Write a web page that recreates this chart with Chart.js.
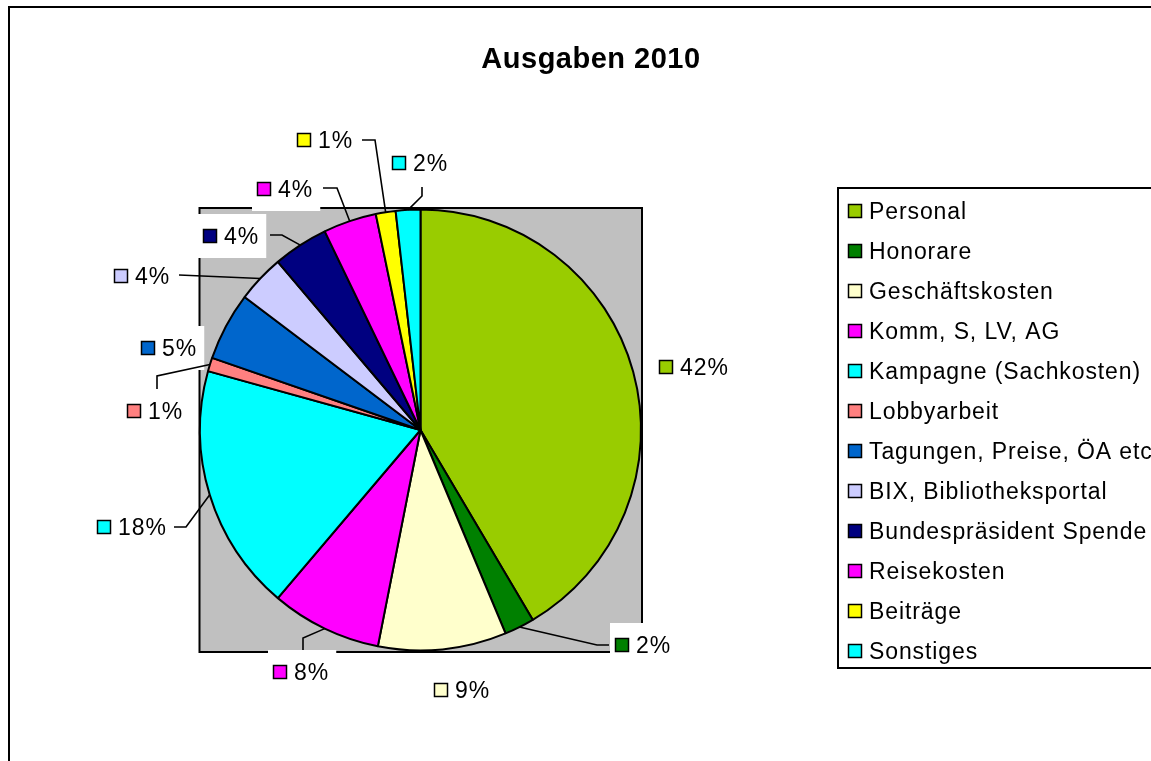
<!DOCTYPE html>
<html><head><meta charset="utf-8">
<script src="https://cdn.jsdelivr.net/npm/chart.js@4.4.1/dist/chart.umd.min.js"></script>
<style>html,body{margin:0;padding:0;background:#fff;overflow:hidden}canvas{display:block}</style>
</head><body>
<canvas id="c" width="1151" height="761"></canvas>
<script>
const chartTitle = 'Ausgaben 2010';
const categories = ['Personal','Honorare','Geschäftskosten','Komm, S, LV, AG','Kampagne (Sachkosten)','Lobbyarbeit','Tagungen, Preise, ÖA etc','BIX, Bibliotheksportal','Bundespräsident Spende','Reisekosten','Beiträge','Sonstiges'];
const shares = [41.5, 2.2, 9.4, 8.1, 18.1, 1.0, 5.0, 3.5, 4.05, 3.9, 1.45, 1.8];
const colors = ['#99CC00','#008000','#FFFFCC','#FF00FF','#00FFFF','#FF8080','#0066CC','#CCCCFF','#000080','#FF00FF','#FFFF00','#00FFFF'];

// label placement (square left x, centre y) and leader-line elbow points
const labelLayout = [
  {x:659, y:367, lead:[]},
  {x:615, y:645, lead:[[609,645],[597,645]]},
  {x:434, y:690, lead:[]},
  {x:273, y:672, lead:[[303,650],[303,638]]},
  {x:97,  y:527, lead:[[174,527],[186,527]]},
  {x:127, y:411, lead:[[157,389],[157,376]]},
  {x:141, y:348, lead:[]},
  {x:114, y:276, lead:[[179,275]]},
  {x:203, y:236, lead:[[270,235],[282,235]]},
  {x:257, y:189, lead:[[323,188],[337,188]]},
  {x:297, y:140, lead:[[362,140],[375,140]]},
  {x:392, y:163, lead:[[422,187],[422,196]]}
];

const FONT = '"Liberation Sans", Arial, sans-serif';
const total = shares.reduce((a,b)=>a+b,0);
const pctText = v => Math.round(v*100/total + 1e-9) + '%';

function setSpacing(ctx, s){ if ('letterSpacing' in ctx) ctx.letterSpacing = s; }

const decor = {
  id:'decor',
  beforeDraw(chart){
    const ctx = chart.ctx;
    ctx.save();
    ctx.fillStyle = '#fff';
    ctx.fillRect(0,0,chart.width,chart.height);
    ctx.strokeStyle = '#000';
    ctx.lineWidth = 2;
    ctx.strokeRect(9, 7, 1300, 900);
    ctx.fillStyle = '#000';
    ctx.font = 'bold 29px ' + FONT;
    setSpacing(ctx,'0.5px');
    ctx.textAlign = 'center';
    ctx.textBaseline = 'alphabetic';
    ctx.fillText(chartTitle, 591, 68);
    ctx.restore();
  },
  beforeDatasetsDraw(chart){
    const ctx = chart.ctx, ca = chart.chartArea;
    ctx.save();
    ctx.fillStyle = '#C0C0C0';
    ctx.fillRect(ca.left, ca.top, ca.right-ca.left, ca.bottom-ca.top);
    ctx.strokeStyle = '#000';
    ctx.lineWidth = 2;
    ctx.strokeRect(ca.left+0.5, ca.top, ca.right-ca.left-0.5, ca.bottom-ca.top);
    // white label backgrounds
    ctx.font = '23px ' + FONT;
    setSpacing(ctx,'1px');
    ctx.fillStyle = '#fff';
    labelLayout.forEach((L,i)=>{
      const w = ctx.measureText(pctText(shares[i])).width;
      ctx.fillRect(L.x-5, L.y-22, 21 + w + 12, 44);
    });
    ctx.restore();
  },
  afterDatasetsDraw(chart){
    const ctx = chart.ctx;
    const meta = chart.getDatasetMeta(0);
    ctx.save();
    // leader lines
    ctx.strokeStyle = '#000';
    ctx.lineWidth = 1.6;
    meta.data.forEach((arc,i)=>{
      const L = labelLayout[i];
      if (!L.lead.length) return;
      const p = arc.getProps(['x','y','startAngle','endAngle','outerRadius'], true);
      const mid = (p.startAngle + p.endAngle)/2;
      const ex = p.x + Math.cos(mid)*p.outerRadius;
      const ey = p.y + Math.sin(mid)*p.outerRadius;
      ctx.beginPath();
      ctx.moveTo(L.lead[0][0], L.lead[0][1]);
      for (let k=1;k<L.lead.length;k++) ctx.lineTo(L.lead[k][0], L.lead[k][1]);
      ctx.lineTo(ex, ey);
      ctx.stroke();
    });
    // data labels
    ctx.font = '23px ' + FONT;
    setSpacing(ctx,'1px');
    ctx.textBaseline = 'alphabetic';
    ctx.textAlign = 'left';
    labelLayout.forEach((L,i)=>{
      ctx.fillStyle = colors[i];
      ctx.fillRect(L.x+0.5, L.y-6.5, 13, 13);
      ctx.lineWidth = 1.5;
      ctx.strokeStyle = '#000';
      ctx.strokeRect(L.x+0.5, L.y-6.5, 13, 13);
      ctx.fillStyle = '#000';
      ctx.fillText(pctText(shares[i]), L.x+21, L.y+8);
    });
    // legend
    ctx.lineWidth = 2;
    ctx.strokeRect(838, 188, 400, 480);
    setSpacing(ctx,'0.9px');
    chart.data.labels.forEach((lab,i)=>{
      const cy = 211 + 40*i;
      ctx.fillStyle = colors[i];
      ctx.fillRect(848.5, cy-6.5, 13, 13);
      ctx.lineWidth = 1.5;
      ctx.strokeRect(848.5, cy-6.5, 13, 13);
      ctx.fillStyle = '#000';
      ctx.fillText(lab, 869, cy+8);
    });
    ctx.restore();
  }
};

new Chart(document.getElementById('c'), {
  type:'pie',
  data:{ labels: categories, datasets:[{ data: shares, backgroundColor: colors, borderColor:'#000', borderWidth:2 }]},
  options:{
    responsive:false, animation:false, events:[],
    layout:{ padding:{ left:199, right:509, top:208, bottom:109 } },
    plugins:{ legend:{display:false}, tooltip:{enabled:false}, title:{display:false} }
  },
  plugins:[decor]
});
</script>
</body></html>
